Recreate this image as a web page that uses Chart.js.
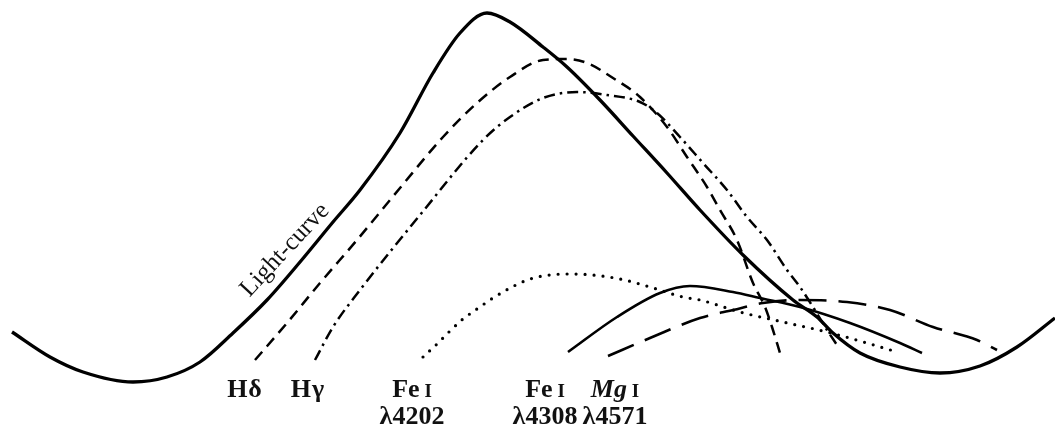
<!DOCTYPE html>
<html>
<head>
<meta charset="utf-8">
<script src="https://cdn.jsdelivr.net/npm/chart.js@4/dist/chart.umd.min.js"></script>
<style>
  html, body { margin: 0; padding: 0; background: #ffffff; }
  #wrap { position: relative; width: 1055px; height: 428px; }
</style>
</head>
<body>
<div id="wrap"><canvas id="c"></canvas></div>
<script>
// Phase (x) and relative intensity (y)
const lightX = [12,50,83,133,167,200,233,267,300,333,360,400,433,460,487,510,543,567,600,633,667,700,743,793,817,833,860,900,940,980,1017,1055];
const lightY = [96,71,56,46,51,66,95,128,166,206,238,295,355,395,415,406,381,361,328,292,255,218,173,128,111,95,75,61,55,62,81,110];

const hDeltaX = [255,287,320,357,400,443,477,510,543,567,587,613,640,667,687,707,720,737,753,765,772,780];
const hDeltaY = [68,105,145,188,240,291,325,351,368,369,365,350,331,301,271,241,218,188,145,121,101,75];

const hGammaX = [315,333,360,420,483,510,543,577,607,640,657,680,703,727,747,767,787,800,813,827,837];
const hGammaY = [68,101,138,213,288,311,330,336,333,326,315,291,265,238,211,188,158,141,121,98,83];

const fe4202X = [423,437,450,463,477,493,512,530,550,568,592,620,650,683,700,740,783,827,867,897];
const fe4202Y = [71,84,97,109,119,130,141,149,153,154,153,149,141,131,128,116,106,96,85,76];

const fe4308X = [568,617,660,690,733,760,800,850,900,922];
const fe4308Y = [76,111,135,142,136,130,121,105,85,75];

const mg4571X = [608,650,700,733,763,800,847,890,933,977,997];
const mg4571Y = [72,90,110,118,125,128,126,118,101,88,78];

// Line labels below the curves
const labelMain   = ['H', 'H', 'Fe', 'Fe', 'Mg'];
const labelSuffix = ['δ', 'γ', ' I', ' I', ' I'];
const labelWave   = ['', '', 'λ4202', 'λ4308', 'λ4571'];
const labelX      = [244, 307, 412, 545, 615];

const curveLabel = 'Light-curve';

const pts = (xs, ys) => xs.map((x, i) => ({ x: x, y: ys[i] }));

const labelPlugin = {
  id: 'labels',
  afterDatasetsDraw(chart) {
    const ctx = chart.ctx;
    const xs = chart.scales.x, ys = chart.scales.y;
    ctx.save();
    ctx.fillStyle = '#111';
    ctx.textBaseline = 'alphabetic';
    const fam = '"Liberation Serif", "Times New Roman", serif';
    const row1 = ys.getPixelForValue(31);
    const row2 = ys.getPixelForValue(4);
    labelMain.forEach((m, i) => {
      const italic = m === 'Mg' ? 'italic ' : '';
      const mainFont = italic + 'bold 26px ' + fam;
      const smallCap = labelSuffix[i].trim() === 'I';
      const sufFont = smallCap ? 'bold 19px ' + fam : 'bold 26px ' + fam;
      ctx.font = mainFont;
      const w1 = ctx.measureText(m).width;
      ctx.font = sufFont;
      const w2 = ctx.measureText(labelSuffix[i]).width;
      const cx = xs.getPixelForValue(labelX[i]);
      let x0 = cx - (w1 + w2) / 2;
      ctx.textAlign = 'left';
      ctx.font = mainFont;
      ctx.fillText(m, x0, row1);
      ctx.font = sufFont;
      ctx.fillText(labelSuffix[i], x0 + w1 + (smallCap ? 0 : 1), row1);
      if (labelWave[i]) {
        ctx.font = 'bold 26px ' + fam;
        ctx.textAlign = 'center';
        ctx.fillText(labelWave[i], cx, row2);
      }
    });
    // rotated label along the light-curve
    ctx.translate(xs.getPixelForValue(285), ys.getPixelForValue(178));
    ctx.rotate(-47 * Math.PI / 180);
    ctx.font = '25px ' + fam;
    ctx.textAlign = 'center';
    ctx.textBaseline = 'middle';
    ctx.fillText(curveLabel, 0, 0);
    ctx.restore();
  }
};

const base = { showLine: true, pointRadius: 0, pointHoverRadius: 0, fill: false,
               borderColor: '#000', cubicInterpolationMode: 'monotone' };

new Chart(document.getElementById('c'), {
  type: 'scatter',
  data: {
    datasets: [
      Object.assign({}, base, { label: 'Light-curve', data: pts(lightX, lightY), borderWidth: 3.3 }),
      Object.assign({}, base, { label: 'Hδ', data: pts(hDeltaX, hDeltaY), borderWidth: 2.5, borderDash: [11, 7] }),
      Object.assign({}, base, { label: 'Hγ', data: pts(hGammaX, hGammaY), borderWidth: 2.5, borderDash: [11, 5, 2.5, 5] }),
      Object.assign({}, base, { label: 'Fe I λ4202', data: pts(fe4202X, fe4202Y), borderWidth: 3.2, borderDash: [0, 9], borderCapStyle: 'round' }),
      Object.assign({}, base, { label: 'Fe I λ4308', data: pts(fe4308X, fe4308Y), borderWidth: 2.6 }),
      Object.assign({}, base, { label: 'Mg I λ4571', data: pts(mg4571X, mg4571Y), borderWidth: 2.6, borderDash: [28, 12] })
    ]
  },
  options: {
    responsive: true,
    maintainAspectRatio: false,
    animation: false,
    layout: { padding: 0 },
    plugins: { legend: { display: false }, tooltip: { enabled: false }, title: { display: false } },
    scales: {
      x: { type: 'linear', min: 0, max: 1055, display: false },
      y: { type: 'linear', min: 0, max: 428, display: false }
    }
  },
  plugins: [labelPlugin]
});
</script>
</body>
</html>
